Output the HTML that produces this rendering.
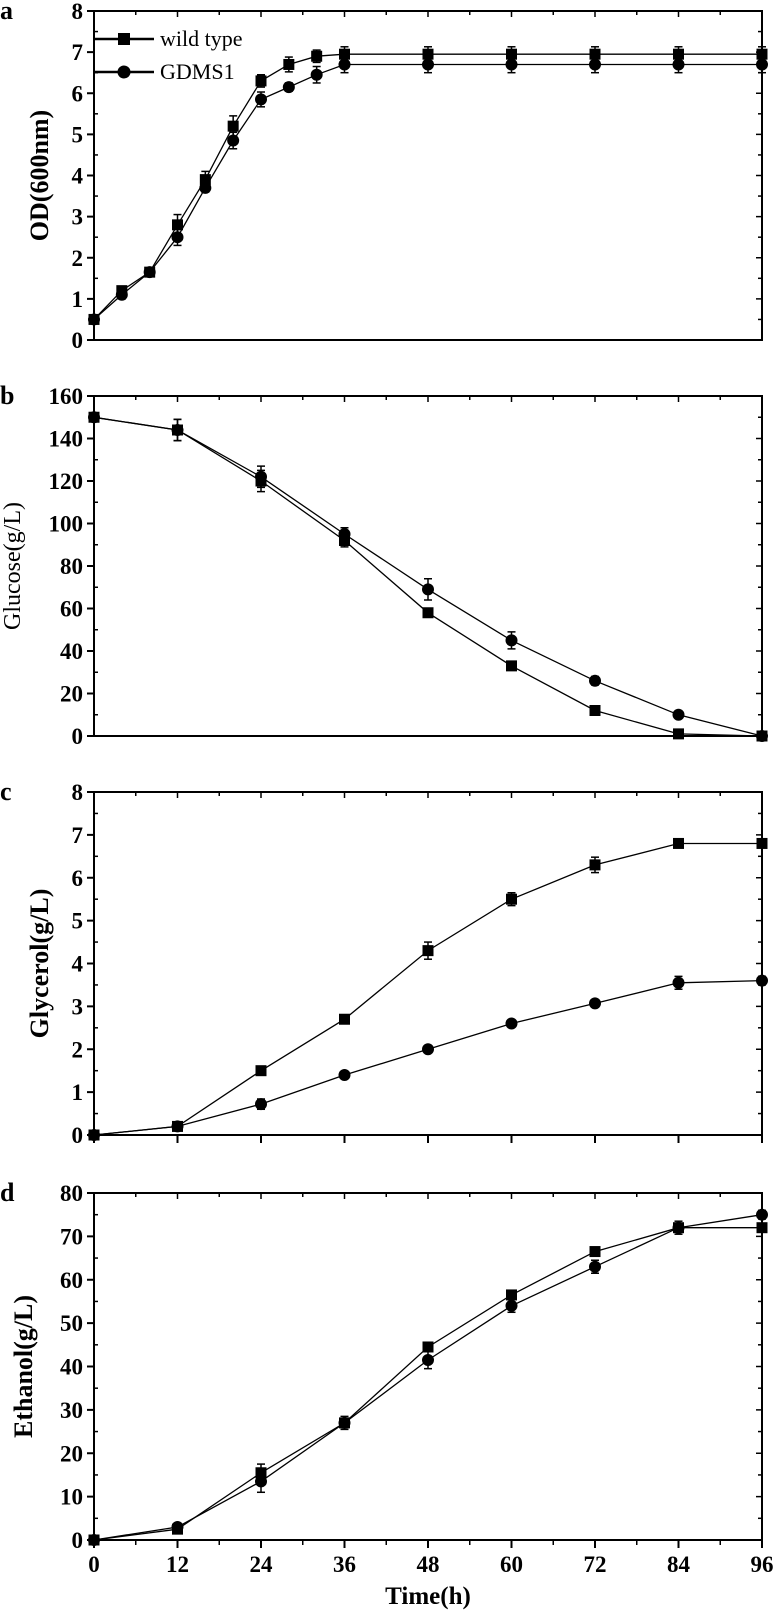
<!DOCTYPE html>
<html><head><meta charset="utf-8"><style>
html,body{margin:0;padding:0;background:#fff;}
svg{display:block;}
text{font-family:"Liberation Serif",serif;fill:#000;}
</style></head><body>
<svg id="fig" width="774" height="1610" viewBox="0 0 774 1610" xmlns="http://www.w3.org/2000/svg"></svg>
<script>
const timesA = [0,4,8,12,16,20,24,28,32,36,48,60,72,84,96];
const odWT   = [0.5,1.2,1.65,2.8,3.9,5.2,6.3,6.7,6.9,6.95,6.95,6.95,6.95,6.95,6.95];
const odWTe  = [0.05,0.1,0.08,0.25,0.2,0.25,0.15,0.18,0.15,0.18,0.18,0.18,0.18,0.18,0.18];
const odGD   = [0.5,1.1,1.65,2.5,3.7,4.85,5.85,6.15,6.45,6.7,6.7,6.7,6.7,6.7,6.7];
const odGDe  = [0.05,0.1,0.08,0.2,0.1,0.2,0.18,0.1,0.2,0.2,0.2,0.2,0.2,0.2,0.2];
const times  = [0,12,24,36,48,60,72,84,96];
const gluWT  = [150,144,120,92,58,33,12,1,0];
const gluWTe = [1,5,5,3,2,2,2,1,1];
const gluGD  = [150,144,122,95,69,45,26,10,0];
const gluGDe = [1,5,5,3,5,4,2,1,1];
const glyWT  = [0,0.2,1.5,2.7,4.3,5.5,6.3,6.8,6.8];
const glyWTe = [0.02,0.05,0.05,0.08,0.2,0.15,0.18,0.05,0.05];
const glyGD  = [0,0.2,0.72,1.4,2.0,2.6,3.07,3.55,3.6];
const glyGDe = [0.02,0.05,0.12,0.05,0.05,0.05,0.05,0.15,0.1];
const ethWT  = [0,2.5,15.5,27,44.5,56.5,66.5,72,72];
const ethWTe = [0.3,0.5,2,1,1,1,1,1,1];
const ethGD  = [0,3,13.5,27,41.5,54,63,72,75];
const ethGDe = [0.3,0.5,2.5,1.5,2,1.5,1.5,1.5,1];
const xTicks = [0,12,24,36,48,60,72,84,96];
const yTicksA = [0,1,2,3,4,5,6,7,8];
const yTicksB = [0,20,40,60,80,100,120,140,160];
const yTicksC = [0,1,2,3,4,5,6,7,8];
const yTicksD = [0,10,20,30,40,50,60,70,80];

const NS="http://www.w3.org/2000/svg";
const svg=document.getElementById('fig');
function mk(tag,attrs,parent){const e=document.createElementNS(NS,tag);for(const k in attrs)e.setAttribute(k,attrs[k]);(parent||svg).appendChild(e);return e;}
const X0=94,X1=762;
function xs(t){return X0+(t/96)*(X1-X0);}

function panel(cfg){
  const g=mk('g',{});
  
  
  const top=cfg.top,bot=cfg.bot,ymax=cfg.ymax;
  const ys=v=>bot-(v/ymax)*(bot-top);
  const fr=mk('rect',{x:X0,y:top,width:X1-X0,height:bot-top,fill:'none',stroke:'#000','stroke-width':2},g);
  
  
  const step=cfg.yTicks[1]-cfg.yTicks[0];
  cfg.yTicks.forEach((v,i)=>{
    const y=ys(v);
    mk('line',{x1:X0-7,y1:y,x2:X0,y2:y,stroke:'#000','stroke-width':2},g);
    mk('line',{x1:X1-6,y1:y,x2:X1,y2:y,stroke:'#000','stroke-width':1.5},g);
    if(i<cfg.yTicks.length-1){const ym=ys(v+step/2);
      mk('line',{x1:X0,y1:ym,x2:X0+4,y2:ym,stroke:'#000','stroke-width':1.5},g);
      mk('line',{x1:X1-4,y1:ym,x2:X1,y2:ym,stroke:'#000','stroke-width':1.5},g);}
    const t=mk('text',{x:X0-11,y:y+8,'text-anchor':'end','font-size':23,'font-weight':'bold'},g);
    t.textContent=v;
    
    
  });
  xTicks.forEach((v,i)=>{
    const x=xs(v);
    mk('line',{x1:x,y1:top,x2:x,y2:top+6,stroke:'#000','stroke-width':1.5},g);
    if(i<xTicks.length-1){const xm=xs(v+6);mk('line',{x1:xm,y1:top,x2:xm,y2:top+4,stroke:'#000','stroke-width':1.5},g);
      if(cfg.bottomMinor)mk('line',{x1:xm,y1:bot,x2:xm,y2:bot+5,stroke:'#000','stroke-width':1.5},g);}
    if(cfg.bottomTicks)mk('line',{x1:x,y1:bot,x2:x,y2:bot+8,stroke:'#000','stroke-width':2},g);
    if(cfg.xLabels){const t=mk('text',{x:x,y:bot+32,'text-anchor':'middle','font-size':23,'font-weight':'bold'},g);
      t.textContent=v;
      
      }
  });
  const L=mk('text',{x:0,y:top+8,'font-size':26,'font-weight':'bold'},g);
  L.textContent=cfg.letter;
  
  
  const cy=(top+bot)/2;
  const T=mk('text',{x:0,y:0,transform:`translate(${cfg.titleX},${cy}) rotate(-90)`,'text-anchor':'middle','font-size':cfg.titleSize,'font-weight':cfg.titleBold?'bold':'normal'},g);
  T.textContent=cfg.title;
  
  
  cfg.series.forEach(s=>{
    const sg=mk('g',{},g);
    
    
    const pts=s.v.map((v,i)=>xs(s.t[i]).toFixed(1)+','+ys(v).toFixed(1)).join(' ');
    mk('polyline',{points:pts,fill:'none',stroke:'#000','stroke-width':1.3},sg);
    s.v.forEach((v,i)=>{
      const x=xs(s.t[i]),y=ys(v),e=s.e[i]*(bot-top)/ymax;
      if(e>2){mk('line',{x1:x,y1:y-e,x2:x,y2:y+e,stroke:'#000','stroke-width':1.5},sg);
        mk('line',{x1:x-4,y1:y-e,x2:x+4,y2:y-e,stroke:'#000','stroke-width':1.5},sg);
        mk('line',{x1:x-4,y1:y+e,x2:x+4,y2:y+e,stroke:'#000','stroke-width':1.5},sg);}
      let m;
      if(s.shape==='sq')m=mk('rect',{x:x-5.5,y:y-5.5,width:11,height:11,fill:'#000'},sg);
      else m=mk('circle',{cx:x,cy:y,r:6,fill:'#000'},sg);
      
      
    });
  });
  return g;
}

panel({name:'panel-a-od',letter:'a',top:11,bot:340,ymax:8,yTicks:yTicksA,title:'OD(600nm)',titleX:48,titleSize:26,titleBold:true,
  series:[{name:'series-wild-type-od',t:timesA,v:odWT,e:odWTe,shape:'sq'},{name:'series-gdms1-od',t:timesA,v:odGD,e:odGDe,shape:'ci'}]});
panel({name:'panel-b-glucose',letter:'b',top:396,bot:736,ymax:160,yTicks:yTicksB,title:'Glucose(g/L)',titleX:20,titleSize:24,titleBold:false,
  series:[{name:'series-wild-type-glucose',t:times,v:gluWT,e:gluWTe,shape:'sq'},{name:'series-gdms1-glucose',t:times,v:gluGD,e:gluGDe,shape:'ci'}]});
panel({name:'panel-c-glycerol',letter:'c',top:792,bot:1135,ymax:8,yTicks:yTicksC,title:'Glycerol(g/L)',titleX:48,titleSize:26,titleBold:true,bottomTicks:true,
  series:[{name:'series-wild-type-glycerol',t:times,v:glyWT,e:glyWTe,shape:'sq'},{name:'series-gdms1-glycerol',t:times,v:glyGD,e:glyGDe,shape:'ci'}]});
panel({name:'panel-d-ethanol',letter:'d',top:1193,bot:1540,ymax:80,yTicks:yTicksD,title:'Ethanol(g/L)',titleX:32,titleSize:26,titleBold:true,bottomTicks:true,bottomMinor:true,xLabels:true,
  series:[{name:'series-wild-type-ethanol',t:times,v:ethWT,e:ethWTe,shape:'sq'},{name:'series-gdms1-ethanol',t:times,v:ethGD,e:ethGDe,shape:'ci'}]});

const xt=mk('text',{x:428,y:1604,'text-anchor':'middle','font-size':25,'font-weight':'bold'});
xt.textContent='Time(h)';



const lg=mk('g',{});


[['wild type',39,'sq'],['GDMS1',72,'ci']].forEach(([lab,y,sh])=>{
  const eg=mk('g',{},lg);
  
  
  mk('line',{x1:94,y1:y,x2:154,y2:y,stroke:'#000','stroke-width':2.5},eg);
  if(sh==='sq')mk('rect',{x:118,y:y-6,width:12,height:12,fill:'#000'},eg);
  else mk('circle',{cx:124,cy:y,r:6.5,fill:'#000'},eg);
  const t=mk('text',{x:160,y:y+7,'font-size':22},eg);
  t.textContent=lab;
});
</script>
</body></html>
